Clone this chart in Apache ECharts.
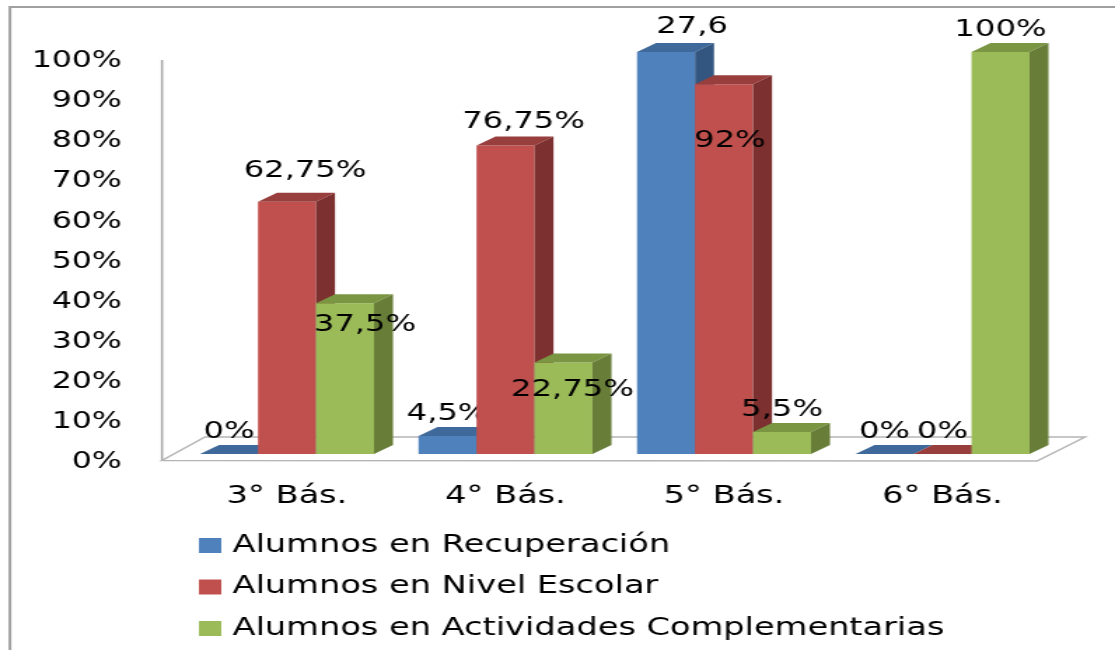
<!DOCTYPE html>
<html>
<head>
<meta charset="utf-8">
<script src="https://cdn.jsdelivr.net/npm/echarts@6/dist/echarts.min.js"></script>
<style>
  html, body { margin: 0; padding: 0; background: #ffffff; overflow: hidden; }
  #wrap { width: 1115px; height: 650px; overflow: hidden; }
  #chart { width: 796px; height: 650px; transform: scaleX(1.40075); transform-origin: 0 0; }
</style>
</head>
<body>
<div id="wrap"><div id="chart"></div></div>
<script>
// ---- data ----
const categories = ['3° Bás.', '4° Bás.', '5° Bás.', '6° Bás.'];
const seriesNames = ['Alumnos en Recuperación', 'Alumnos en Nivel Escolar', 'Alumnos en Actividades Complementarias'];
const recuperacion = [0, 4.5, 100, 0];
const nivelEscolar = [62.75, 76.75, 92, 0];
const actividades = [37.5, 22.75, 5.5, 100];
const recuperacionLabels = ['0%', '4,5%', '27,6', '0%'];
const nivelEscolarLabels = ['62,75%', '76,75%', '92%', '0%'];
const actividadesLabels = ['37,5%', '22,75%', '5,5%', '100%'];
const yTickValues = [0, 10, 20, 30, 40, 50, 60, 70, 80, 90, 100];

// ---- styling / layout ----
const S = 1115 / 796;           // horizontal stretch of the picture
const FONT = 'DejaVu Sans';
const colors = [
  { front: '#4f81bd', top: '#3f699a', side: '#335681' },
  { front: '#c0504d', top: '#983f3d', side: '#7c302f' },
  { front: '#9bbb59', top: '#7b9642', side: '#687e38' }
];
// label offsets (reference px) from the default spot above each bar
const labelOffsets = [
  [[0, 0], [0, 0], [26, -3], [0, 0]],
  [[18, -9], [18, -1], [6, 79], [0, 0]],
  [[20, 44], [9, 49], [0, 0], [0, 0]]
];
const DEPTH_X = 19 / S, DEPTH_Y = -9;
const BAR_FRAC = 0.2654;

const gridLeft = 177.75 / S, gridRight = 1051.75 / S;
const gridTop = 52, gridBottomY = 454;

function makeRender(si, labels) {
  const c = colors[si];
  return function (params, api) {
    const ci = api.value(0), v = api.value(1);
    const base = api.coord([ci, 0]);
    const top = api.coord([ci, v]);
    const band = api.size([1, 0])[0];
    const bw = band * BAR_FRAC;
    const x0 = base[0] - 1.5 * bw + si * bw;
    const dx = DEPTH_X, dy = DEPTH_Y;
    const yT = top[1], yB = base[1];
    const off = labelOffsets[si][ci];
    return {
      type: 'group',
      children: [
        { type: 'rect', shape: { x: x0, y: yT, width: bw, height: yB - yT }, style: { fill: c.front } },
        { type: 'polygon', shape: { points: [[x0, yT], [x0 + bw, yT], [x0 + bw + dx, yT + dy], [x0 + dx, yT + dy]] }, style: { fill: c.top } },
        { type: 'polygon', shape: { points: [[x0 + bw, yT], [x0 + bw + dx, yT + dy], [x0 + bw + dx, yB + dy], [x0 + bw, yB]] }, style: { fill: c.side } },
        { type: 'text', x: x0 + bw / 2 + off[0] / S, y: yT + dy - 13 + off[1], z2: 10,
          style: { text: labels[ci], fill: '#000000', fontSize: 23, fontFamily: FONT, align: 'center', verticalAlign: 'middle' } }
      ]
    };
  };
}

const valueSets = [recuperacion, nivelEscolar, actividades];
const labelSets = [recuperacionLabels, nivelEscolarLabels, actividadesLabels];

const series = valueSets.map((vals, si) => ({
  type: 'custom',
  name: seriesNames[si],
  xAxisIndex: 0,
  yAxisIndex: 0,
  z: 2 + si,
  itemStyle: { color: colors[si].front },
  renderItem: makeRender(si, labelSets[si]),
  encode: { x: 0, y: 1 },
  data: vals.map((v, i) => [i, v])
}));

// floor (decoration) derived from plane geometry
const floorFrontY = 460.5, floorBackY = 437;
const floorPts = [
  [162 / S, floorFrontY], [1037 / S, floorFrontY + 0.5], [1085 / S, floorBackY], [205 / S, floorBackY]
];

const chart = echarts.init(document.getElementById('chart'), null, { renderer: 'canvas' });
chart.setOption({
  animation: false,
  backgroundColor: '#ffffff',
  grid: [
    { left: gridLeft, width: gridRight - gridLeft, top: gridTop, height: gridBottomY - gridTop },
    { left: 95, width: 10, top: 61.5, height: 400.5 }
  ],
  xAxis: [
    { type: 'category', gridIndex: 0, data: categories,
      axisLine: { show: false }, axisTick: { show: false }, splitLine: { show: false },
      axisLabel: { margin: 31, fontSize: 24, fontFamily: FONT, color: '#000000' } },
    { type: 'value', gridIndex: 1, show: false }
  ],
  yAxis: [
    { type: 'value', gridIndex: 0, min: 0, max: 100, show: false },
    { type: 'value', gridIndex: 1, min: 0, max: 100, interval: 10,
      axisLine: { show: false }, axisTick: { show: false }, splitLine: { show: false },
      axisLabel: { margin: 8, fontSize: 22.5, fontFamily: FONT, color: '#000000',
        formatter: function (v) { return yTickValues.indexOf(v) >= 0 ? v + '%' : ''; } } }
  ],
  legend: {
    data: seriesNames,
    orient: 'vertical',
    left: 142,
    top: 533.5,
    padding: 0,
    icon: 'rect',
    itemWidth: 16,
    itemHeight: 15,
    itemGap: 17.5,
    selectedMode: false,
    textStyle: { fontSize: 24, fontFamily: FONT, color: '#000000', lineHeight: 24, padding: [0, 0, 0, 3] }
  },
  graphic: [
    { type: 'polyline', z: 0, shape: { points: [[7.1, 650], [7.1, 7], [796, 7]] }, style: { stroke: '#a0a0a0', lineWidth: 2, fill: null } },
    { type: 'line', z: 0, shape: { x1: 162 / S, y1: 60, x2: 162 / S, y2: floorFrontY }, style: { stroke: '#a6a6a6', lineWidth: 1.5 } },
    { type: 'polygon', z: 0, shape: { points: floorPts }, style: { fill: '#ffffff', stroke: '#b5b5b5', lineWidth: 1.5 } }
  ],
  series: series
});
</script>
</body>
</html>
